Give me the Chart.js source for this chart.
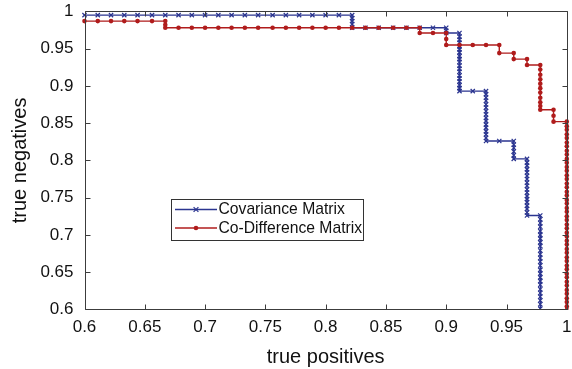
<!DOCTYPE html>
<html>
<head>
<meta charset="utf-8">
<script src="https://cdn.jsdelivr.net/npm/chart.js@4"></script>
<style>
  html, body { margin: 0; padding: 0; background: #ffffff; }
  #wrap { width: 572px; height: 369px; }
</style>
</head>
<body>
<div id="wrap"><canvas id="c" width="572" height="369"></canvas></div>
<script>
// ---- data ----
const seriesLabels = ['Covariance Matrix', 'Co-Difference Matrix'];
const xTickValues = [0.6, 0.65, 0.7, 0.75, 0.8, 0.85, 0.9, 0.95, 1];
const yTickValues = [0.6, 0.65, 0.7, 0.75, 0.8, 0.85, 0.9, 0.95, 1];
const xTitle = 'true positives';
const yTitle = 'true negatives';

// Covariance Matrix (true positives, true negatives)
const covX = [
  0.6, 0.611, 0.622, 0.633, 0.644, 0.656, 0.667, 0.678, 0.689, 0.7, 0.711, 0.722, 0.733, 0.744, 0.756, 0.767, 0.778, 0.789, 0.8, 0.811, 0.822,
  0.822, 0.822, 0.822, 0.822,
  0.833, 0.844, 0.856, 0.867, 0.878, 0.889, 0.9,
  0.9, 0.9,
  0.911,
  0.911, 0.911, 0.911, 0.911, 0.911, 0.911, 0.911, 0.911, 0.911, 0.911, 0.911, 0.911, 0.911, 0.911, 0.911, 0.911, 0.911, 0.911,
  0.922, 0.933,
  0.933, 0.933, 0.933, 0.933, 0.933, 0.933, 0.933, 0.933, 0.933, 0.933, 0.933, 0.933, 0.933, 0.933, 0.933,
  0.944, 0.956,
  0.956, 0.956, 0.956, 0.956, 0.956,
  0.967,
  0.967, 0.967, 0.967, 0.967, 0.967, 0.967, 0.967, 0.967, 0.967, 0.967, 0.967, 0.967, 0.967, 0.967, 0.967, 0.967, 0.967,
  0.978,
  0.978, 0.978, 0.978, 0.978, 0.978, 0.978, 0.978, 0.978, 0.978, 0.978, 0.978, 0.978, 0.978, 0.978, 0.978, 0.978, 0.978, 0.978, 0.978, 0.978, 0.978, 0.978, 0.978, 0.978, 0.978
];
const covY = [
  0.995, 0.995, 0.995, 0.995, 0.995, 0.995, 0.995, 0.995, 0.995, 0.995, 0.995, 0.995, 0.995, 0.995, 0.995, 0.995, 0.995, 0.995, 0.995, 0.995, 0.995,
  0.991, 0.987, 0.983, 0.978,
  0.978, 0.978, 0.978, 0.978, 0.978, 0.978, 0.978,
  0.974, 0.971,
  0.971,
  0.966, 0.962, 0.958, 0.953, 0.949, 0.945, 0.940, 0.936, 0.932, 0.927, 0.923, 0.919, 0.914, 0.910, 0.906, 0.901, 0.897, 0.893,
  0.893, 0.893,
  0.889, 0.884, 0.880, 0.875, 0.871, 0.866, 0.862, 0.857, 0.853, 0.848, 0.844, 0.839, 0.835, 0.830, 0.826,
  0.826, 0.826,
  0.821, 0.817, 0.812, 0.807, 0.802,
  0.802,
  0.797, 0.793, 0.788, 0.784, 0.779, 0.775, 0.770, 0.766, 0.761, 0.757, 0.752, 0.748, 0.744, 0.739, 0.735, 0.730, 0.726,
  0.726,
  0.721, 0.716, 0.711, 0.705, 0.700, 0.695, 0.690, 0.685, 0.679, 0.674, 0.669, 0.664, 0.659, 0.653, 0.648, 0.643, 0.638, 0.633, 0.627, 0.622, 0.617, 0.612, 0.607, 0.601, 0.596
];

// Co-Difference Matrix (true positives, true negatives)
const codX = [
  0.6, 0.611, 0.622, 0.633, 0.644, 0.656, 0.667,
  0.667, 0.667,
  0.678, 0.689, 0.7, 0.711, 0.722, 0.733, 0.744, 0.756, 0.767, 0.778, 0.789, 0.8, 0.811, 0.822, 0.833, 0.844, 0.856, 0.867, 0.878,
  0.878,
  0.889, 0.9,
  0.9, 0.9,
  0.911, 0.922, 0.933, 0.944,
  0.944,
  0.956,
  0.956,
  0.967,
  0.967,
  0.978,
  0.978, 0.978, 0.978, 0.978, 0.978, 0.978, 0.978, 0.978, 0.978, 0.978,
  0.989,
  0.989, 0.989,
  1.0,
  1.0, 1.0, 1.0, 1.0, 1.0, 1.0, 1.0, 1.0, 1.0, 1.0, 1.0, 1.0, 1.0, 1.0, 1.0, 1.0, 1.0, 1.0, 1.0, 1.0, 1.0, 1.0, 1.0,
  1.0, 1.0, 1.0, 1.0, 1.0, 1.0, 1.0, 1.0, 1.0, 1.0, 1.0, 1.0, 1.0, 1.0, 1.0, 1.0, 1.0, 1.0, 1.0, 1.0, 1.0, 1.0, 1.0, 1.0
];
const codY = [
  0.987, 0.987, 0.987, 0.987, 0.987, 0.987, 0.987,
  0.982, 0.978,
  0.978, 0.978, 0.978, 0.978, 0.978, 0.978, 0.978, 0.978, 0.978, 0.978, 0.978, 0.978, 0.978, 0.978, 0.978, 0.978, 0.978, 0.978, 0.978,
  0.971,
  0.971, 0.971,
  0.963, 0.955,
  0.955, 0.955, 0.955, 0.955,
  0.944,
  0.944,
  0.936,
  0.936,
  0.928,
  0.928,
  0.922, 0.915, 0.909, 0.903, 0.897, 0.891, 0.884, 0.878, 0.873, 0.868,
  0.868,
  0.860, 0.852,
  0.852,
  0.846, 0.841, 0.835, 0.830, 0.824, 0.819, 0.813, 0.808, 0.802, 0.797, 0.791, 0.786, 0.780, 0.775, 0.769, 0.764, 0.758, 0.753, 0.747, 0.742, 0.736, 0.731, 0.725,
  0.720, 0.714, 0.709, 0.703, 0.698, 0.692, 0.687, 0.681, 0.676, 0.670, 0.665, 0.659, 0.654, 0.648, 0.643, 0.637, 0.632, 0.626, 0.621, 0.615, 0.610, 0.604, 0.599
];

// ---- chart ----
const FONT = '"Liberation Sans", Arial, sans-serif';
const BLUE = '#2b3590';
const RED = '#b01c1c';
const pts = (xs, ys) => xs.map((x, i) => ({ x: x, y: ys[i] }));

const framePlugin = {
  id: 'frameAndLegend',
  afterDatasetsDraw(chart) {
    const { ctx, chartArea: a, scales: { x, y } } = chart;
    ctx.save();
    ctx.strokeStyle = '#3c3c3c';
    ctx.lineWidth = 1;
    const L = Math.round(a.left) + 0.5, R = Math.round(a.right) + 0.5;
    const T = Math.round(a.top) + 0.5, B = Math.round(a.bottom) + 0.5;
    ctx.beginPath();
    ctx.moveTo(L, T); ctx.lineTo(R, T); ctx.lineTo(R, B); ctx.lineTo(L, B); ctx.closePath();
    x.ticks.forEach(t => {
      const px = Math.round(x.getPixelForValue(t.value)) + 0.5;
      ctx.moveTo(px, B); ctx.lineTo(px, B - 5);
      ctx.moveTo(px, T); ctx.lineTo(px, T + 5);
    });
    y.ticks.forEach(t => {
      const py = Math.round(y.getPixelForValue(t.value)) + 0.5;
      ctx.moveTo(L, py); ctx.lineTo(L + 5, py);
      ctx.moveTo(R, py); ctx.lineTo(R - 5, py);
    });
    ctx.stroke();

    // legend box inside plot
    const bx = 171.5, by = 199.5, bw = 192, bh = 41;
    ctx.fillStyle = '#ffffff';
    ctx.fillRect(bx, by, bw, bh);
    ctx.strokeStyle = '#333333';
    ctx.strokeRect(bx, by, bw, bh);
    const rows = [209.5, 228];
    chart.data.datasets.forEach((ds, i) => {
      const ry = rows[i];
      ctx.strokeStyle = ds.borderColor;
      ctx.lineWidth = 1.3;
      ctx.beginPath(); ctx.moveTo(175, ry); ctx.lineTo(217, ry); ctx.stroke();
      const mx = 196;
      if (ds.pointStyle === 'crossRot') {
        ctx.beginPath();
        ctx.moveTo(mx - 2.4, ry - 2.4); ctx.lineTo(mx + 2.4, ry + 2.4);
        ctx.moveTo(mx - 2.4, ry + 2.4); ctx.lineTo(mx + 2.4, ry - 2.4);
        ctx.lineWidth = 1.2; ctx.stroke();
      } else {
        ctx.fillStyle = ds.borderColor;
        ctx.beginPath(); ctx.arc(mx, ry, 2.3, 0, Math.PI * 2); ctx.fill();
      }
      ctx.fillStyle = '#111111';
      ctx.font = '15.7px ' + FONT;
      ctx.textBaseline = 'middle';
      ctx.textAlign = 'left';
      ctx.fillText(ds.label, 218.5, ry + 0.5);
    });
    ctx.restore();
  }
};

new Chart(document.getElementById('c'), {
  type: 'line',
  data: {
    datasets: [
      {
        label: seriesLabels[0],
        data: pts(covX, covY),
        borderColor: BLUE,
        backgroundColor: BLUE,
        borderWidth: 1.4,
        pointStyle: 'crossRot',
        pointRadius: 3,
        pointBorderWidth: 1.2,
        pointBorderColor: BLUE,
        tension: 0,
        fill: false,
        order: 1,
        clip: { left: 4, top: 4, right: 4, bottom: 0 }
      },
      {
        label: seriesLabels[1],
        data: pts(codX, codY),
        borderColor: RED,
        backgroundColor: RED,
        borderWidth: 1.4,
        pointStyle: 'circle',
        pointRadius: 2.3,
        pointBorderWidth: 0,
        pointBackgroundColor: RED,
        tension: 0,
        fill: false,
        order: 0,
        clip: { left: 4, top: 4, right: 4, bottom: 0 }
      }
    ]
  },
  options: {
    responsive: false,
    devicePixelRatio: 1,
    animation: false,
    layout: { padding: { top: 11.4, right: 1, bottom: 0, left: 0 } },
    plugins: { legend: { display: false }, tooltip: { enabled: false } },
    scales: {
      x: {
        type: 'linear',
        min: 0.6, max: 1,
        afterBuildTicks(s) { s.ticks = xTickValues.map(v => ({ value: v })); },
        afterFit(s) { s.height = 59.6; s.paddingLeft = 0; s.paddingRight = 0; },
        grid: { display: false, drawTicks: false },
        border: { display: false },
        ticks: {
          autoSkip: false, maxRotation: 0, padding: 8, color: '#111111',
          font: { family: FONT, size: 17 },
          callback: v => String(Number(v.toFixed(2)))
        },
        title: {
          display: true, text: xTitle, color: '#111111',
          font: { family: FONT, size: 20 }, padding: { top: 0, bottom: 0 }
        }
      },
      y: {
        type: 'linear',
        min: 0.6, max: 1,
        afterBuildTicks(s) { s.ticks = yTickValues.map(v => ({ value: v })); },
        afterFit(s) { s.width = 84.5; s.paddingTop = 0; s.paddingBottom = 0; },
        grid: { display: false, drawTicks: false },
        border: { display: false },
        ticks: {
          autoSkip: false, padding: 11, color: '#111111',
          font: { family: FONT, size: 17 },
          callback: v => String(Number(v.toFixed(2)))
        },
        title: {
          display: true, text: yTitle, color: '#111111',
          font: { family: FONT, size: 20 }, padding: { top: 8, bottom: 0 }
        }
      }
    }
  },
  plugins: [framePlugin]
});
</script>
</body>
</html>
